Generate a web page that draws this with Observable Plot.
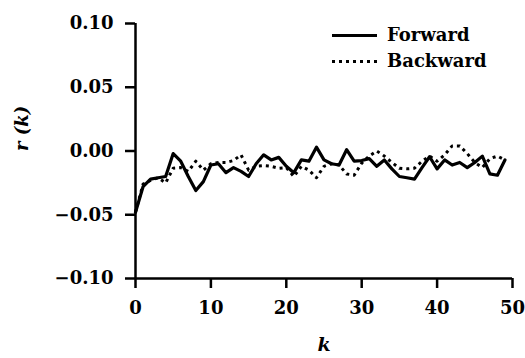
<!DOCTYPE html>
<html>
<head>
<meta charset="utf-8">
<script src="https://cdn.jsdelivr.net/npm/d3@7"></script>
<script src="https://cdn.jsdelivr.net/npm/@observablehq/plot@0.6"></script>
<style>
  html, body { margin: 0; padding: 0; background: #fff; }
  #wrap { position: relative; width: 525px; height: 358px; }
  .legend { position: absolute; left: 332px; top: 21.5px; font-family: "DejaVu Serif", serif; font-weight: bold; font-size: 18px; color: #000; }
  .legend .row { position: relative; height: 26.5px; width: 180px; }
  .legend svg { position: absolute; left: 0; top: 10px; }
  .legend span { position: absolute; left: 55px; top: 0; line-height: 26.5px; white-space: nowrap; }
</style>
</head>
<body>
<div id="wrap"></div>
<script>
// Lag index k and the autocorrelation estimates r(k)
const lags = d3.range(0, 50);
const forward = [
  -0.048, -0.028, -0.022, -0.021, -0.020, -0.002, -0.008, -0.020, -0.031, -0.024,
  -0.011, -0.010, -0.017, -0.013, -0.016, -0.020, -0.010, -0.003, -0.007, -0.005,
  -0.012, -0.017, -0.007, -0.008, 0.003, -0.007, -0.010, -0.011, 0.001, -0.008,
  -0.0075, -0.006, -0.012, -0.007, -0.014, -0.020, -0.021, -0.022, -0.013, -0.0045,
  -0.014, -0.007, -0.011, -0.009, -0.013, -0.009, -0.004, -0.018, -0.019, -0.007
];
const backward = [
  -0.048, -0.026, -0.023, -0.021, -0.025, -0.0135, -0.013, -0.016, -0.008, -0.015,
  -0.010, -0.009, -0.009, -0.0075, -0.003, -0.015, -0.012, -0.0115, -0.012, -0.0135,
  -0.013, -0.020, -0.012, -0.015, -0.021, -0.012, -0.010, -0.011, -0.018, -0.019,
  -0.0095, -0.004, 0.000, -0.004, -0.009, -0.0135, -0.014, -0.0135, -0.008, -0.004,
  -0.008, -0.003, 0.004, 0.004, -0.002, -0.009, -0.013, -0.006, -0.004, -0.007
];
const xTicks = [0, 10, 20, 30, 40, 50];
const yTicks = [-0.10, -0.05, 0.00, 0.05, 0.10];
const seriesNames = ["Forward", "Backward"];

const rows = lags.map((k, i) => ({k, forward: forward[i], backward: backward[i]}));

const chart = Plot.plot({
  width: 525,
  height: 358,
  marginLeft: 135,
  marginRight: 13,
  marginTop: 23,
  marginBottom: 80,
  style: {fontFamily: "DejaVu Serif", fontSize: "18px", fontWeight: "bold", color: "#000", background: "#fff"},
  x: {domain: [0, 50]},
  y: {domain: [-0.1, 0.1]},
  marks: [
    Plot.axisX({ticks: xTicks, tickSize: 10, tickPadding: 13, strokeWidth: 2.5, label: null}),
    Plot.axisY({ticks: yTicks, tickSize: 10, tickPadding: 12, strokeWidth: 2.5, tickFormat: d3.format(".2f"), label: null}),
    Plot.ruleX([0], {strokeWidth: 2.5}),
    Plot.ruleY([-0.1], {strokeWidth: 2.5}),
    Plot.line(rows, {x: "k", y: "forward", stroke: "#000", strokeWidth: 3.2}),
    Plot.line(rows, {x: "k", y: "backward", stroke: "#000", strokeWidth: 3, strokeDasharray: "3,4", strokeLinecap: "butt"}),
    Plot.text(["r (k)"], {text: d => d, frameAnchor: "left", dx: -113, rotate: -90, fontStyle: "italic", fontSize: 18}),
    Plot.text(["k"], {text: d => d, frameAnchor: "bottom", dy: 72, fontStyle: "italic", fontSize: 19})
  ]
});

const wrap = document.getElementById("wrap");
wrap.appendChild(chart);

// Legend: line samples with series names
const legend = document.createElement("div");
legend.className = "legend";
const dashes = [null, "3,4"];
seriesNames.forEach((name, i) => {
  const row = document.createElement("div");
  row.className = "row";
  const dash = dashes[i] ? ` stroke-dasharray="${dashes[i]}"` : "";
  row.innerHTML = `<svg width="46" height="8"><line x1="0" x2="45" y1="3.5" y2="3.5" stroke="#000" stroke-width="${i ? 3 : 3.2}"${dash}/></svg><span>${name}</span>`;
  legend.appendChild(row);
});
wrap.appendChild(legend);
</script>
</body>
</html>
